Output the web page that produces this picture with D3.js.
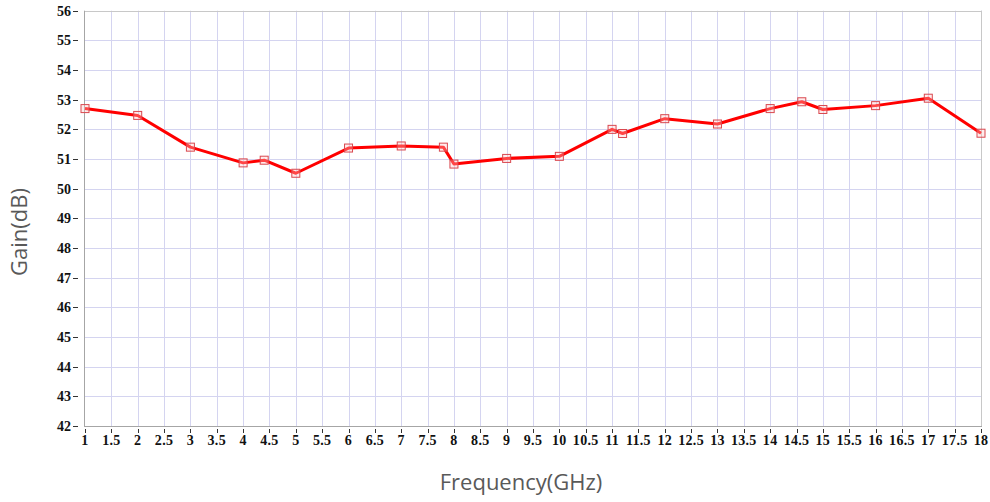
<!DOCTYPE html>
<html>
<head>
<meta charset="utf-8">
<script src="https://cdn.jsdelivr.net/npm/d3@7"></script>
<style>
  html, body { margin: 0; padding: 0; background: #fff; }
  svg { display: block; }
</style>
</head>
<body>
<svg id="chart" width="990" height="502"></svg>
<script>
// ---- data ----
const frequency = [1, 2, 3, 4, 4.4, 5, 6, 7, 7.8, 8, 9, 10, 11, 11.2, 12, 13, 14, 14.6, 15, 16, 17, 18];
const gain = [52.70, 52.47, 51.40, 50.87, 50.96, 50.52, 51.37, 51.44, 51.40, 50.83, 51.02, 51.09, 52.00, 51.86, 52.36, 52.18, 52.70, 52.93, 52.67, 52.80, 53.05, 51.87];
const xTicks = [1, 1.5, 2, 2.5, 3, 3.5, 4, 4.5, 5, 5.5, 6, 6.5, 7, 7.5, 8, 8.5, 9, 9.5, 10, 10.5, 11, 11.5, 12, 12.5, 13, 13.5, 14, 14.5, 15, 15.5, 16, 16.5, 17, 17.5, 18];
const yTicks = [42, 43, 44, 45, 46, 47, 48, 49, 50, 51, 52, 53, 54, 55, 56];
const xTitle = "Frequency(GHz)";
const yTitle = "Gain(dB)";

// ---- layout ----
const svg = d3.select("#chart");
const L = 85, R = 981, T = 10.7, B = 426;
const x = d3.scaleLinear().domain([1, 18]).range([L, R]);
const y = d3.scaleLinear().domain([42, 56]).range([B, T]);

const tickFont = "'Liberation Serif', 'DejaVu Serif', serif";

// grid
const grid = svg.append("g");
grid.selectAll("line.v").data(xTicks.slice(1)).join("line")
  .attr("x1", d => Math.round(x(d)) + 0.5).attr("x2", d => Math.round(x(d)) + 0.5)
  .attr("y1", T).attr("y2", B)
  .attr("stroke", "#d4d4f0").attr("stroke-width", 1);
grid.selectAll("line.h").data(yTicks.slice(1)).join("line")
  .attr("x1", L).attr("x2", R)
  .attr("y1", d => Math.round(y(d)) + 0.5).attr("y2", d => Math.round(y(d)) + 0.5)
  .attr("stroke", "#d4d4f0").attr("stroke-width", 1);

// border top/right
svg.append("line").attr("x1", L).attr("x2", R).attr("y1", Math.round(T) + 0.5).attr("y2", Math.round(T) + 0.5)
  .attr("stroke", "#c8c8c8");
svg.append("line").attr("x1", Math.round(R) + 0.5).attr("x2", Math.round(R) + 0.5).attr("y1", T).attr("y2", B)
  .attr("stroke", "#c8c8c8");

// axes lines
svg.append("line").attr("x1", Math.round(L) - 0.5).attr("x2", Math.round(L) - 0.5).attr("y1", T).attr("y2", B + 0.5)
  .attr("stroke", "#a6a6a6");
svg.append("line").attr("x1", L - 1).attr("x2", R + 1).attr("y1", Math.round(B) + 0.5).attr("y2", Math.round(B) + 0.5)
  .attr("stroke", "#a6a6a6");

// y ticks
const yAx = svg.append("g");
yAx.selectAll("line").data(yTicks).join("line")
  .attr("x1", 73).attr("x2", 78)
  .attr("y1", d => Math.round(y(d)) + 0.5).attr("y2", d => Math.round(y(d)) + 0.5)
  .attr("stroke", "#333").attr("stroke-width", 1);
yAx.selectAll("text").data(yTicks).join("text")
  .attr("x", 71).attr("y", d => y(d) + 5)
  .attr("text-anchor", "end")
  .attr("font-family", tickFont).attr("font-weight", "bold").attr("font-size", 14)
  .attr("fill", "#111")
  .text(d => d);

// x ticks
const xAx = svg.append("g");
xAx.selectAll("line").data(xTicks).join("line")
  .attr("x1", d => Math.round(x(d)) + 0.5).attr("x2", d => Math.round(x(d)) + 0.5)
  .attr("y1", 429).attr("y2", 433)
  .attr("stroke", "#333").attr("stroke-width", 1);
xAx.selectAll("text").data(xTicks).join("text")
  .attr("x", d => x(d)).attr("y", 445)
  .attr("text-anchor", "middle")
  .attr("font-family", tickFont).attr("font-weight", "bold").attr("font-size", 14)
  .attr("letter-spacing", 0.3)
  .attr("fill", "#111")
  .text(d => d);

// line
const pts = frequency.map((f, i) => [f, gain[i]]);
svg.append("path")
  .datum(pts)
  .attr("d", d3.line().x(d => x(d[0])).y(d => y(d[1])))
  .attr("fill", "none")
  .attr("stroke", "#ff0000")
  .attr("stroke-width", 3)
  .attr("stroke-linejoin", "round");

// markers
svg.append("g").selectAll("rect").data(pts).join("rect")
  .attr("x", d => x(d[0]) - 4).attr("y", d => y(d[1]) - 4)
  .attr("width", 8).attr("height", 8)
  .attr("fill", "rgba(255,200,200,0.35)")
  .attr("stroke", "#d9484f").attr("stroke-width", 1);

// titles
svg.append("text")
  .attr("x", 521).attr("y", 490)
  .attr("text-anchor", "middle")
  .attr("font-family", "'Open Sans', 'Noto Sans', sans-serif").attr("font-size", 22)
  .attr("fill", "#595959")
  .text(xTitle);
svg.append("text")
  .attr("transform", "translate(27,232) rotate(-90)")
  .attr("text-anchor", "middle")
  .attr("font-family", "'Open Sans', 'Noto Sans', sans-serif").attr("font-size", 22)
  .attr("fill", "#595959")
  .text(yTitle);
</script>
</body>
</html>
